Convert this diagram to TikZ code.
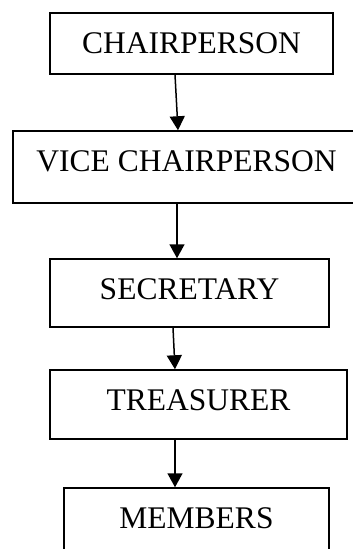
\documentclass[tikz,border=0pt]{standalone}
\usepackage{fontspec}
\setmainfont{Liberation Serif}
\usetikzlibrary{arrows.meta}
\tikzset{
  box/.style={draw, line width=1.5pt, inner sep=0pt, font=\fontsize{31.5}{37}\selectfont},
  conn/.style={line width=1.5pt, -{Triangle[width=15pt,length=14pt]}}
}
\begin{document}
\begin{tikzpicture}[x=1pt,y=-1pt]
\clip (0,0) rectangle (353,549);
\fill[white] (0,0) rectangle (353,549);
\node[box, minimum width=283pt, minimum height=61pt] (ch) at (191.5,43.5) {CHAIRPERSON};
\node[box, minimum width=347pt, minimum height=72pt] (vc) at (186.5,167) {\raisebox{11pt}{VICE CHAIRPERSON}};
\node[box, minimum width=279pt, minimum height=68pt] (se) at (189.5,293) {\raisebox{8pt}{SECRETARY}};
\node[box, minimum width=297pt, minimum height=69pt] (tr) at (198.5,404.5) {\raisebox{9pt}{TREASURER}};
\node[box, minimum width=265pt, minimum height=64pt] (me) at (196.5,520) {\raisebox{4pt}{MEMBERS}};
\draw[conn] ([xshift=-16.5pt]ch.south) -- ([xshift=-8.5pt]vc.north);
\draw[conn] ([xshift=-9.5pt]vc.south) -- ([xshift=-12.5pt]se.north);
\draw[conn] ([xshift=-16.5pt]se.south) -- ([xshift=-23.5pt]tr.north);
\draw[conn] ([xshift=-23.5pt]tr.south) -- ([xshift=-21.5pt]me.north);
\end{tikzpicture}
\end{document}
